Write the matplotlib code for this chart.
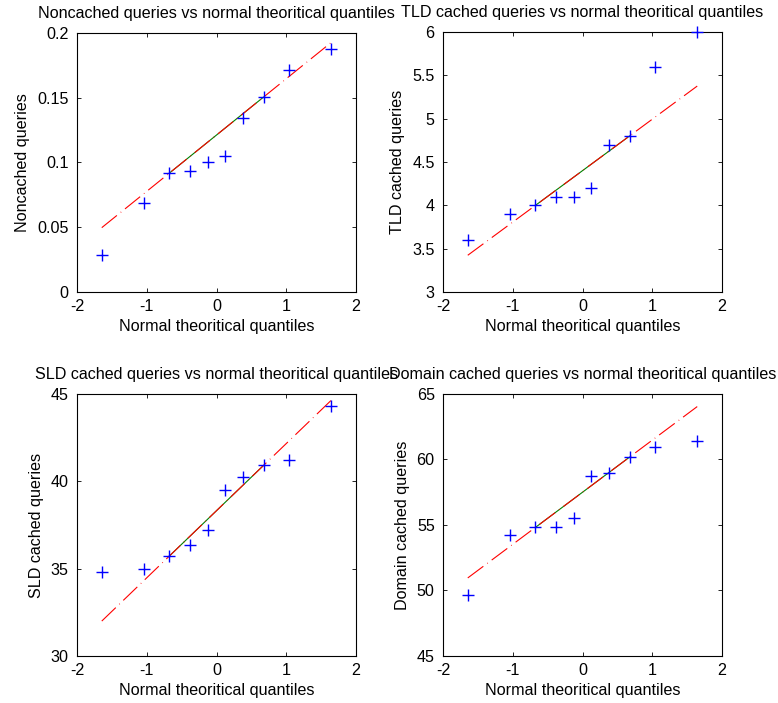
import numpy as np
import matplotlib
matplotlib.use("Agg")
import matplotlib.pyplot as plt

plt.rcParams['font.family'] = ['Liberation Sans', 'DejaVu Sans']
plt.rcParams['lines.scale_dashes'] = False

# theoretical normal quantiles for n = 10 (MATLAB qqplot positions)
quantiles = [-1.645, -1.036, -0.674, -0.385, -0.126, 0.126, 0.385, 0.674, 1.036, 1.645]

noncached = [0.0283, 0.0687, 0.0919, 0.0934, 0.1001, 0.1053, 0.1346, 0.1505, 0.1717, 0.1876]
tld = [3.6, 3.9, 4.0, 4.1, 4.1, 4.2, 4.7, 4.8, 5.6, 6.0]
sld = [34.8, 35.0, 35.73, 36.36, 37.24, 39.52, 40.24, 40.91, 41.22, 44.31]
domain = [49.69, 54.27, 54.82, 54.84, 55.55, 58.71, 58.99, 60.18, 60.95, 61.43]

titles = ["Noncached queries vs normal theoritical quantiles",
          "TLD cached queries vs normal theoritical quantiles",
          "SLD cached queries vs normal theoritical quantiles",
          "Domain cached queries vs normal theoritical quantiles"]
ylabels = ["Noncached queries", "TLD cached queries",
           "SLD cached queries", "Domain cached queries"]
ylims = [(0, 0.2), (3, 6), (30, 45), (45, 65)]
yticks = [[0, 0.05, 0.1, 0.15, 0.2], [3, 3.5, 4, 4.5, 5, 5.5, 6],
          [30, 35, 40, 45], [45, 50, 55, 60, 65]]
yticklabels = [["0", "0.05", "0.1", "0.15", "0.2"],
               ["3", "3.5", "4", "4.5", "5", "5.5", "6"],
               ["30", "35", "40", "45"], ["45", "50", "55", "60", "65"]]
series = [noncached, tld, sld, domain]

W, H = 778, 703
fig = plt.figure(figsize=(W / 100, H / 100), dpi=100)
fig.patch.set_facecolor('white')

# axes boxes in pixels: left, top, right, bottom
boxes = [(77, 33, 356, 292), (443, 32, 722, 292),
         (77, 394, 356, 656), (443, 394, 722, 656)]

fs = 11.6
for i in range(4):
    l, t, r, b = boxes[i]
    ax = fig.add_axes([l / W, 1 - b / H, (r - l) / W, (b - t) / H])
    x = np.array(quantiles)
    y = np.array(series[i])
    # reference line through the 1st and 3rd quartiles
    slope = (y[7] - y[2]) / (x[7] - x[2])
    ax.plot([x[2], x[7]], [y[2], y[7]], color='#008000', lw=0.8, zorder=2)
    xe = np.array([x[0], x[-1]])
    ax.plot(xe, y[2] + slope * (xe - x[2]), color='red', lw=0.8,
            linestyle=(0, (14, 3.5, 0.5, 3.5)), zorder=3)
    ax.plot(x, y, '+', color='blue', markersize=8, markeredgewidth=1.0,
            zorder=4, clip_on=False)
    ax.set_xlim(-2, 2)
    ax.set_ylim(*ylims[i])
    ax.set_xticks([-2, -1, 0, 1, 2])
    ax.set_xticklabels(["-2", "-1", "0", "1", "2"])
    ax.set_yticks(yticks[i])
    ax.set_yticklabels(yticklabels[i])
    ax.tick_params(direction='in', length=3, width=0.6, labelsize=fs,
                   top=True, right=True)
    ax.tick_params(axis='x', pad=5)
    ax.tick_params(axis='y', pad=6)
    for s in ax.spines.values():
        s.set_linewidth(0.8)
    ax.set_title(titles[i], fontsize=fs, pad=11)
    ax.set_xlabel("Normal theoritical quantiles", fontsize=fs, labelpad=4)
    ax.set_ylabel(ylabels[i], fontsize=fs, labelpad=5)

plt.savefig('out.png', dpi=100)
